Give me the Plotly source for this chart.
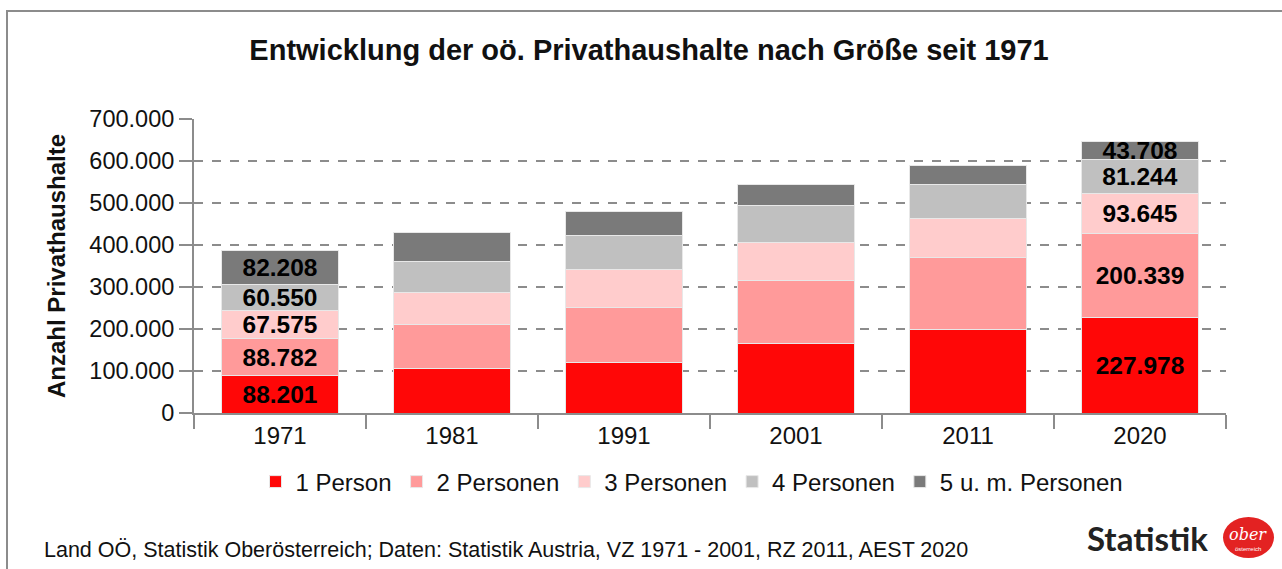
import plotly.graph_objects as go

years = ["1971", "1981", "1991", "2001", "2011", "2020"]
series_names = ["1 Person", "2 Personen", "3 Personen", "4 Personen", "5 u. m. Personen"]
p1 = [88201, 106500, 120000, 165000, 200000, 227978]
p2 = [88782, 103500, 131000, 151000, 171000, 200339]
p3 = [67575, 78000, 90000, 91000, 92000, 93645]
p4 = [60550, 72000, 82000, 86000, 81000, 81244]
p5 = [82208, 70000, 57000, 50000, 46000, 43708]
labeled_years = ["1971", "2020"]

colors = ["#FF0707", "#FF9A9A", "#FFCCCC", "#C0C0C0", "#7A7A7A"]
values = [p1, p2, p3, p4, p5]

FONT = "Arial, Liberation Sans, sans-serif"

fig = go.Figure()
for name, vals, col in zip(series_names, values, colors):
    texts = [f"{v:,}".replace(",", ".") if y in labeled_years else "" for y, v in zip(years, vals)]
    fig.add_trace(go.Bar(
        x=years, y=vals, name=name,
        marker=dict(color=col, line=dict(color="#E8E8E8", width=1)),
        text=texts, textposition="inside", insidetextanchor="middle",
        constraintext="none", cliponaxis=False,
        textfont=dict(family=FONT, size=24.5, color="#000000", weight="bold"),
        hoverinfo="x+y",
    ))

L, R, T, B = 194, 56, 119, 156
W, H = 1282, 569
pw, ph = W - L - R, H - T - B

def px(x):
    return (x - L) / pw

def py(y):
    return (H - B - y) / ph

fig.update_layout(
    barmode="stack",
    bargap=0.32,
    width=W, height=H,
    margin=dict(l=L, r=R, t=T, b=B, autoexpand=False),
    paper_bgcolor="white", plot_bgcolor="white",
    separators=",.",
    font=dict(family=FONT, color="#111111"),
    title=dict(text="<b>Entwicklung der oö. Privathaushalte nach Größe seit 1971</b>",
               x=649 / W, xanchor="center", y=1 - 50 / H, yanchor="middle",
               font=dict(size=29, color="#111111")),
    legend=dict(orientation="h", x=px(692), xanchor="center", y=py(482), yanchor="middle",
                font=dict(size=24, color="#111111"), traceorder="normal",
                bgcolor="rgba(0,0,0,0)"),
    xaxis=dict(type="category", showline=True, linecolor="#8C8C8C", linewidth=2,
               ticks="outside", tickson="boundaries", ticklen=14, tickcolor="#8C8C8C", tickwidth=2,
               tickfont=dict(size=24, color="#111111"), showgrid=False, automargin=False),
    yaxis=dict(range=[0, 700000], dtick=100000, tickformat=",d",
               showline=True, linecolor="#8C8C8C", linewidth=2,
               ticks="outside", ticklen=13, tickcolor="#8C8C8C", tickwidth=2,
               showgrid=True, gridcolor="#8C8C8C", gridwidth=2, griddash="dash",
               zeroline=False, automargin=False,
               tickfont=dict(size=23.5, color="#111111"),
               title=dict(text="<b>Anzahl Privathaushalte</b>", font=dict(size=24, color="#111111"),
                          standoff=17)),
    showlegend=True,
)

# outer frame
fig.add_shape(type="rect", xref="paper", yref="paper",
              x0=px(7), x1=px(1295), y0=py(590), y1=py(11),
              line=dict(color="#8C8C8C", width=2), fillcolor="rgba(0,0,0,0)", layer="below")

# footer
fig.add_annotation(xref="paper", yref="paper", x=px(42), y=py(550), xanchor="left", yanchor="middle",
                   text="Land OÖ, Statistik Oberösterreich; Daten: Statistik Austria, VZ 1971 - 2001, RZ 2011, AEST 2020",
                   showarrow=False, font=dict(size=21.5, color="#111111"))

# logo
fig.add_annotation(xref="paper", yref="paper", x=px(1210), y=py(538), xanchor="right", yanchor="middle",
                   text="<b>Statistik</b>", showarrow=False,
                   font=dict(family="Lato, Open Sans", size=33, color="#222222"))
fig.add_shape(type="circle", xref="paper", yref="paper",
              x0=px(1223), x1=px(1274), y0=py(558), y1=py(517),
              line=dict(color="#E02020", width=0), fillcolor="#E32222")
fig.add_annotation(xref="paper", yref="paper", x=px(1248), y=py(534), xanchor="center", yanchor="middle",
                   text="<i>ober</i>", showarrow=False,
                   font=dict(family="DejaVu Serif", size=16, color="white"))
fig.add_annotation(xref="paper", yref="paper", x=px(1248), y=py(549), xanchor="center", yanchor="middle",
                   text="österreich", showarrow=False,
                   font=dict(size=6, color="white"))

fig.write_html("out.html", config={"displayModeBar": False},
               post_script="document.body.style.margin='0px';")
